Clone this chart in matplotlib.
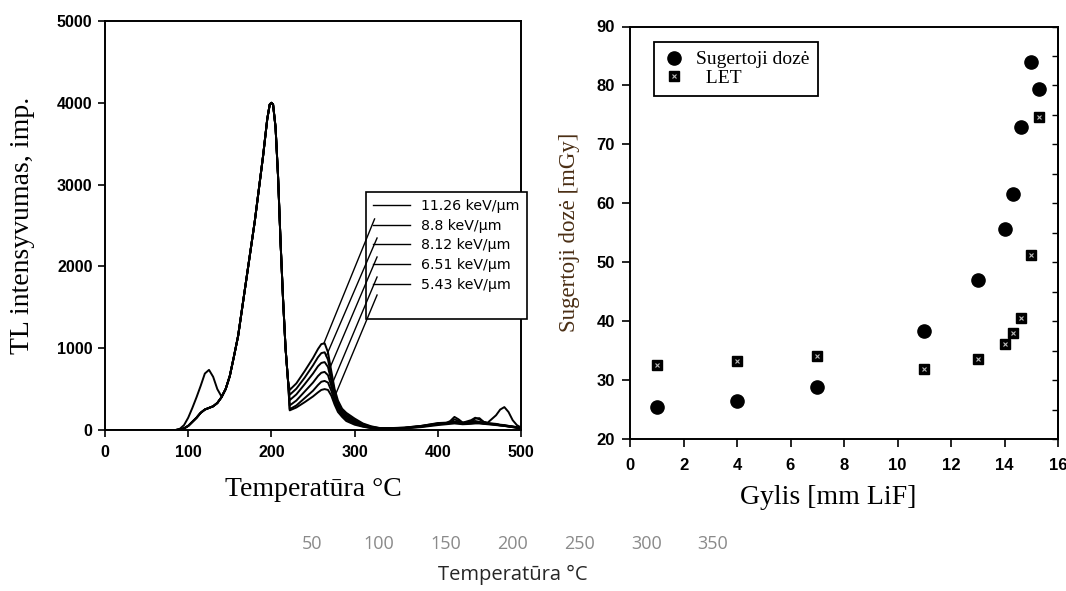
import numpy as np
import matplotlib
matplotlib.use("Agg")
import matplotlib.pyplot as plt
from matplotlib.lines import Line2D

# ---------------- data: left panel (TL glow curves) ----------------
temp_main = [0, 85, 90, 95, 100, 105, 110, 115, 120, 125, 130, 135, 140, 145, 150,
             155, 160, 165, 170, 175, 180, 185, 190, 195, 198, 200, 202, 205, 208,
             211, 214, 217, 220]
tl_main = [0, 0, 5, 20, 50, 100, 150, 210, 250, 270, 290, 330, 400, 500, 660,
           900, 1150, 1500, 1850, 2200, 2550, 2950, 3350, 3800, 3980, 4000, 3980,
           3700, 3100, 2300, 1600, 1000, 600]
tl_main_bump = [0, 0, 15, 60, 150, 270, 400, 540, 690, 735, 650, 500, 410, 500, 660,
                900, 1150, 1500, 1850, 2200, 2550, 2950, 3350, 3800, 3980, 4000, 3980,
                3700, 3100, 2300, 1600, 1000, 600]

temp_mid = [222, 230, 240, 250, 256, 260, 264, 268, 272, 276, 280, 285, 290, 300, 310, 320, 330]
tl_mid = [
    [490, 570, 720, 880, 990, 1050, 1060, 950, 720, 500, 360, 260, 210, 140, 80, 45, 25],
    [430, 505, 640, 790, 890, 940, 950, 860, 660, 460, 330, 240, 190, 120, 70, 40, 22],
    [365, 435, 560, 690, 780, 820, 830, 770, 600, 420, 300, 220, 170, 105, 60, 35, 20],
    [300, 360, 470, 580, 660, 700, 710, 670, 540, 390, 280, 200, 150, 90, 55, 30, 18],
    [255, 300, 390, 480, 550, 590, 600, 580, 480, 350, 250, 180, 130, 80, 45, 25, 15],
    [240, 275, 340, 410, 460, 490, 500, 490, 420, 310, 220, 160, 110, 65, 40, 22, 12],
]

temp_tail = [340, 360, 380, 400, 410, 415, 420, 425, 430, 440, 445, 450, 455, 460,
             470, 475, 480, 485, 490, 495, 500]
tl_tail = [
    [20, 25, 45, 75, 80, 85, 95, 85, 80, 85, 90, 85, 80, 75, 70, 60, 55, 45, 40, 30, 20],
    [18, 22, 40, 70, 78, 90, 130, 110, 85, 90, 100, 90, 80, 75, 65, 55, 50, 45, 35, 30, 15],
    [20, 28, 50, 80, 85, 90, 100, 90, 85, 95, 140, 145, 100, 80, 70, 60, 55, 50, 40, 30, 20],
    [15, 20, 35, 60, 70, 75, 80, 75, 70, 75, 80, 80, 75, 70, 60, 55, 50, 40, 35, 25, 15],
    [22, 30, 50, 85, 90, 95, 100, 95, 90, 100, 110, 100, 90, 85, 75, 65, 60, 50, 45, 35, 25],
    [20, 25, 45, 75, 85, 110, 160, 130, 90, 120, 150, 130, 100, 90, 180, 250, 280, 220, 120, 60, 30],
]
let_labels = ["11.26 keV/\u00b5m", "8.8 keV/\u00b5m", "8.12 keV/\u00b5m",
              "6.51 keV/\u00b5m", "5.43 keV/\u00b5m"]

# ---------------- data: right panel (dose vs depth) ----------------
depth_dose = [1, 4, 7, 11, 13, 14, 14.3, 14.6, 15, 15.3]
dose = [25.4, 26.4, 28.8, 38.4, 47.0, 55.6, 61.6, 72.9, 83.9, 79.4]
depth_let = [1, 4, 7, 11, 13, 14, 14.3, 14.6, 15, 15.3]
let_vals = [32.5, 33.2, 34.1, 31.9, 33.6, 36.2, 38.0, 40.5, 51.2, 74.6]

# ---------------- phantom bottom axis ----------------
phantom_ticks = [50, 100, 150, 200, 250, 300, 350]

W, H = 1066, 591
fig = plt.figure(figsize=(W / 100, H / 100), dpi=100)

def fx(px):
    return px / W

def fy(py):
    return 1 - py / H

serif = "Liberation Serif"
sans = "Liberation Sans"

# ================= left panel =================
ax1 = fig.add_axes([fx(105), fy(430), fx(521 - 105), (430 - 21) / H])
for i in range(6):
    base = tl_main_bump if i == 5 else tl_main
    t = list(temp_main) + temp_mid + temp_tail
    v = list(base) + tl_mid[i] + tl_tail[i]
    ax1.plot(t, v, color="black", lw=1.4, solid_joinstyle="round")

ax1.set_xlim(0, 500)
ax1.set_ylim(0, 5000)
ax1.set_xticks(range(0, 501, 100))
ax1.set_yticks(range(0, 5001, 1000))
ax1.tick_params(direction="out", length=5, width=1.2, pad=6)
ax1.tick_params(axis="y", pad=4)
for lab in ax1.get_xticklabels() + ax1.get_yticklabels():
    lab.set_fontfamily(sans)
    lab.set_fontweight("bold")
    lab.set_fontsize(11.5)
for s in ax1.spines.values():
    s.set_linewidth(1.4)
ax1.set_xlabel("Temperat\u016bra \u00b0C", fontfamily=serif, fontsize=20, labelpad=12)
ax1.set_ylabel("TL intensyvumas, imp.", fontfamily=serif, fontsize=20, labelpad=16)

handles = [Line2D([], [], color="black", lw=1.0) for _ in let_labels]
handles.append(Line2D([], [], color="none"))
labels = let_labels + [""]
leg1 = ax1.legend(handles, labels, loc="upper left",
                  bbox_to_anchor=(fx(366), fy(192)), bbox_transform=fig.transFigure,
                  frameon=True, fancybox=False, framealpha=1, edgecolor="black",
                  prop={"family": "DejaVu Sans", "size": 10.2},
                  handlelength=2.6, handletextpad=0.8, labelspacing=0.4,
                  borderpad=0.5, borderaxespad=0)
leg1.get_frame().set_linewidth(1.2)

# leader lines from curves to legend
leader_top_T = [324, 327, 327, 327, 327]
leader_top_V = [2580, 2347, 2115, 1870, 1650]
leader_bot_T = [263, 266, 269, 272, 275]
for i in range(5):
    full_t = list(temp_main) + temp_mid
    full_v = list(tl_main) + tl_mid[i]
    yb = float(np.interp(leader_bot_T[i], full_t, full_v))
    ax1.plot([leader_bot_T[i], leader_top_T[i]], [yb, leader_top_V[i]],
             color="black", lw=1.0, clip_on=False, zorder=6)

# ================= right panel =================
ax2 = fig.add_axes([fx(630), fy(439), fx(1058 - 630), (439 - 26.5) / H])
ax2.plot(depth_dose, dose, "o", color="black", ms=9.5, ls="none")
ax2.plot(depth_let, let_vals, "s", color="black", ms=7.5, ls="none")
ax2.plot(depth_let, let_vals, "x", color="#bbbbbb", ms=3.5, mew=0.8, ls="none")
ax2.set_xlim(0, 16)
ax2.set_ylim(20, 90)
ax2.set_xticks(range(0, 17, 2))
ax2.set_yticks(range(20, 91, 10))
ax2.tick_params(direction="out", length=6, width=1.2, pad=8)
ax2.tick_params(axis="y", pad=5)
for lab in ax2.get_xticklabels() + ax2.get_yticklabels():
    lab.set_fontfamily(sans)
    lab.set_fontweight("bold")
    lab.set_fontsize(12)
for s in ax2.spines.values():
    s.set_linewidth(1.4)
axr = ax2.secondary_yaxis("right")
axr.set_yticks(range(20, 91, 5))
axr.tick_params(direction="in", length=4, width=1.0, labelright=False)
axr.spines["right"].set_linewidth(1.4)

ax2.set_xlabel("Gylis [mm LiF]", fontfamily=serif, fontsize=20)
ax2.xaxis.set_label_coords((828 - 630) / 428, -(497 - 439) / 412.5, transform=ax2.transAxes)
ax2.xaxis.label.set_va("center")
ax2.set_ylabel("Sugertoji doz\u0117 [mGy]", fontfamily=serif, fontsize=16.5,
               color="#4a2e14", labelpad=12)

h_dose = Line2D([], [], marker="o", color="black", ms=9.5, ls="none")
h_sq = Line2D([], [], marker="s", color="black", ms=7.5, ls="none")
h_x = Line2D([], [], marker="x", color="#bbbbbb", ms=3.5, mew=0.8, ls="none")
leg2 = ax2.legend([h_dose, (h_sq, h_x)], ["Sugertoji doz\u0117", "  LET"],
                  loc="upper left", bbox_to_anchor=(fx(654), fy(42)),
                  bbox_transform=fig.transFigure, frameon=True, fancybox=False,
                  framealpha=1, edgecolor="black",
                  prop={"family": serif, "size": 14},
                  handlelength=1.2, handletextpad=0.5, labelspacing=0.05,
                  borderpad=0.45, borderaxespad=0)
leg2.get_frame().set_linewidth(1.3)

# ================= phantom bottom axis =================
ax3 = fig.add_axes([fx(245), fy(532), fx(780 - 245), 0.001])
ax3.set_xlim(0, 400)
ax3.set_xticks(phantom_ticks)
ax3.set_yticks([])
for s in ax3.spines.values():
    s.set_visible(False)
ax3.patch.set_alpha(0)
ax3.tick_params(axis="x", length=0, pad=2, labelsize=13, labelcolor="#8a8a8a")
for lab in ax3.get_xticklabels():
    lab.set_fontfamily("Open Sans")
ax3.set_xlabel("Temperat\u016bra \u00b0C", fontfamily="Open Sans", fontsize=14.5,
               color="#262626", labelpad=9)

fig.savefig("out.png", dpi=100)
